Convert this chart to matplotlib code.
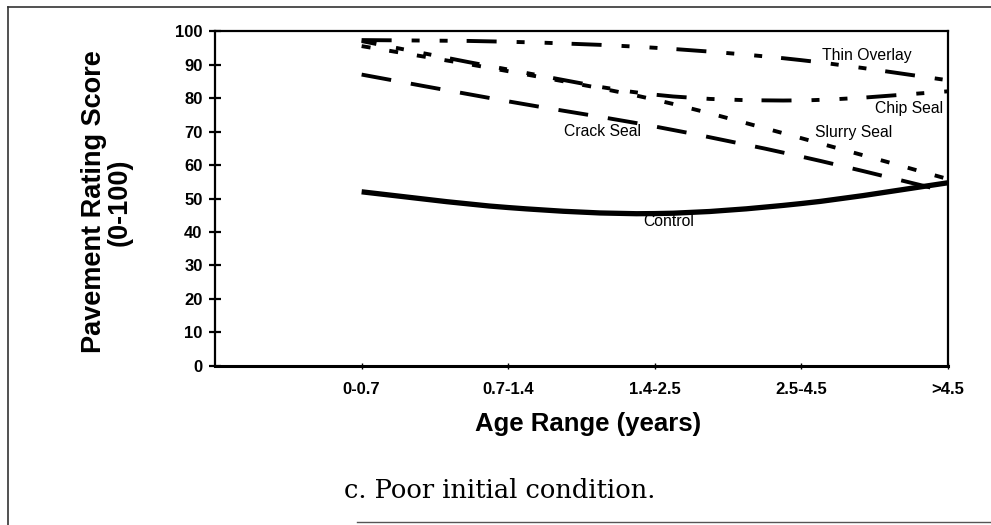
import numpy as np
import matplotlib
matplotlib.use('Agg')
import matplotlib.pyplot as plt
from matplotlib.path import Path
from matplotlib.patches import PathPatch
from matplotlib.lines import Line2D

plt.rcParams['font.family'] = ['Liberation Sans', 'DejaVu Sans']
plt.rcParams['lines.scale_dashes'] = False

# values (pavement rating score by age range)
age_ranges = ['0-0.7', '0.7-1.4', '1.4-2.5', '2.5-4.5', '>4.5']
thin_overlay = [97.3, 96.8, 95.0, 91.3, 85.3]
chip_seal = [97.0, 88.5, 81.0, 79.3, 82.0]
slurry_seal = [95.5, 88.0, 79.5, 68.0, 55.8]
crack_seal = [87.0, 79.0, 71.5, 62.5, 52.0]
control = [52.0, 47.3, 45.5, 48.5, 54.7]


def smooth_path(xs, ys):
    # smoothed line through the points (like Excel's "smoothed line" option)
    pts = np.column_stack([xs, ys]).astype(float)
    ext = np.vstack([pts[0], pts, pts[-1]])
    verts = [pts[0]]
    codes = [Path.MOVETO]
    for i in range(len(pts) - 1):
        p0, p1, p2, p3 = ext[i], ext[i + 1], ext[i + 2], ext[i + 3]
        verts += [p1 + (p2 - p0) / 6, p2 - (p3 - p1) / 6, p2]
        codes += [Path.CURVE4] * 3
    return Path(verts, codes)


px = 0.72  # points per pixel at dpi 100
dash_dot_dot = (30 * px, 20 * px, 8 * px, 20 * px, 8 * px, 19 * px)
series = [
    (thin_overlay, (0, dash_dot_dot), 2.8),
    (chip_seal, (15 * px, dash_dot_dot), 2.8),
    (slurry_seal, (0, (9 * px, 19 * px)), 2.8),
    (crack_seal, (0, (30 * px, 20 * px)), 2.8),
    (control, '-', 3.8),
]

fig = plt.figure(figsize=(9.91, 5.25), dpi=100)
ax = fig.add_axes([0.217, 0.3029, 0.7396, 0.638])

x = np.arange(1, len(age_ranges) + 1)
for vals, ls, lw in series:
    patch = PathPatch(smooth_path(x, vals), facecolor='none', edgecolor='black',
                      linewidth=lw, linestyle=ls, capstyle='butt')
    ax.add_patch(patch)

ax.set_xlim(0, 5)
ax.set_ylim(0, 100)
ax.set_yticks(np.arange(0, 101, 10))
ax.set_xticks(x)
ax.set_xticklabels(age_ranges)
for s in ax.spines.values():
    s.set_linewidth(1.6)
ax.spines['bottom'].set_linewidth(2.2)
ax.tick_params(axis='y', direction='inout', length=9, width=1.6, pad=4.5, labelsize=12)
ax.tick_params(axis='x', direction='inout', length=5, width=1, pad=9, labelsize=12)
for lab in ax.get_xticklabels() + ax.get_yticklabels():
    lab.set_fontweight('bold')

lab_kw = dict(fontsize=11.3, ha='left', va='center')
ax.text(4.14, 92.8, 'Thin Overlay', **lab_kw)
ax.text(4.50, 77.0, 'Chip Seal', **lab_kw)
ax.text(4.09, 69.6, 'Slurry Seal', **lab_kw)
ax.text(2.38, 70.1, 'Crack Seal', **lab_kw)
ax.text(2.92, 43.0, 'Control', **lab_kw)

fig.text(107 / 991, 1 - 202 / 525, 'Pavement Rating Score\n(0-100)', rotation=90,
         ha='center', va='center', multialignment='center', fontsize=19.5,
         fontweight='bold', linespacing=1.0)
fig.text(588 / 991, 1 - 424 / 525, 'Age Range (years)', ha='center', va='center',
         fontsize=18.5, fontweight='bold')
fig.text(500 / 991, 1 - 490 / 525, 'c. Poor initial condition.', ha='center', va='center',
         fontsize=18.5, family=['DejaVu Serif'])

# page frame lines
fig.add_artist(Line2D([8 / 991, 8 / 991], [0, 1 - 7 / 525], color='#333333', lw=1.2))
fig.add_artist(Line2D([8 / 991, 1], [1 - 7 / 525, 1 - 7 / 525], color='#333333', lw=1.2))
fig.add_artist(Line2D([357 / 991, 1], [3 / 525, 3 / 525], color='#555555', lw=1.0))

fig.savefig('out.png', dpi=100)
